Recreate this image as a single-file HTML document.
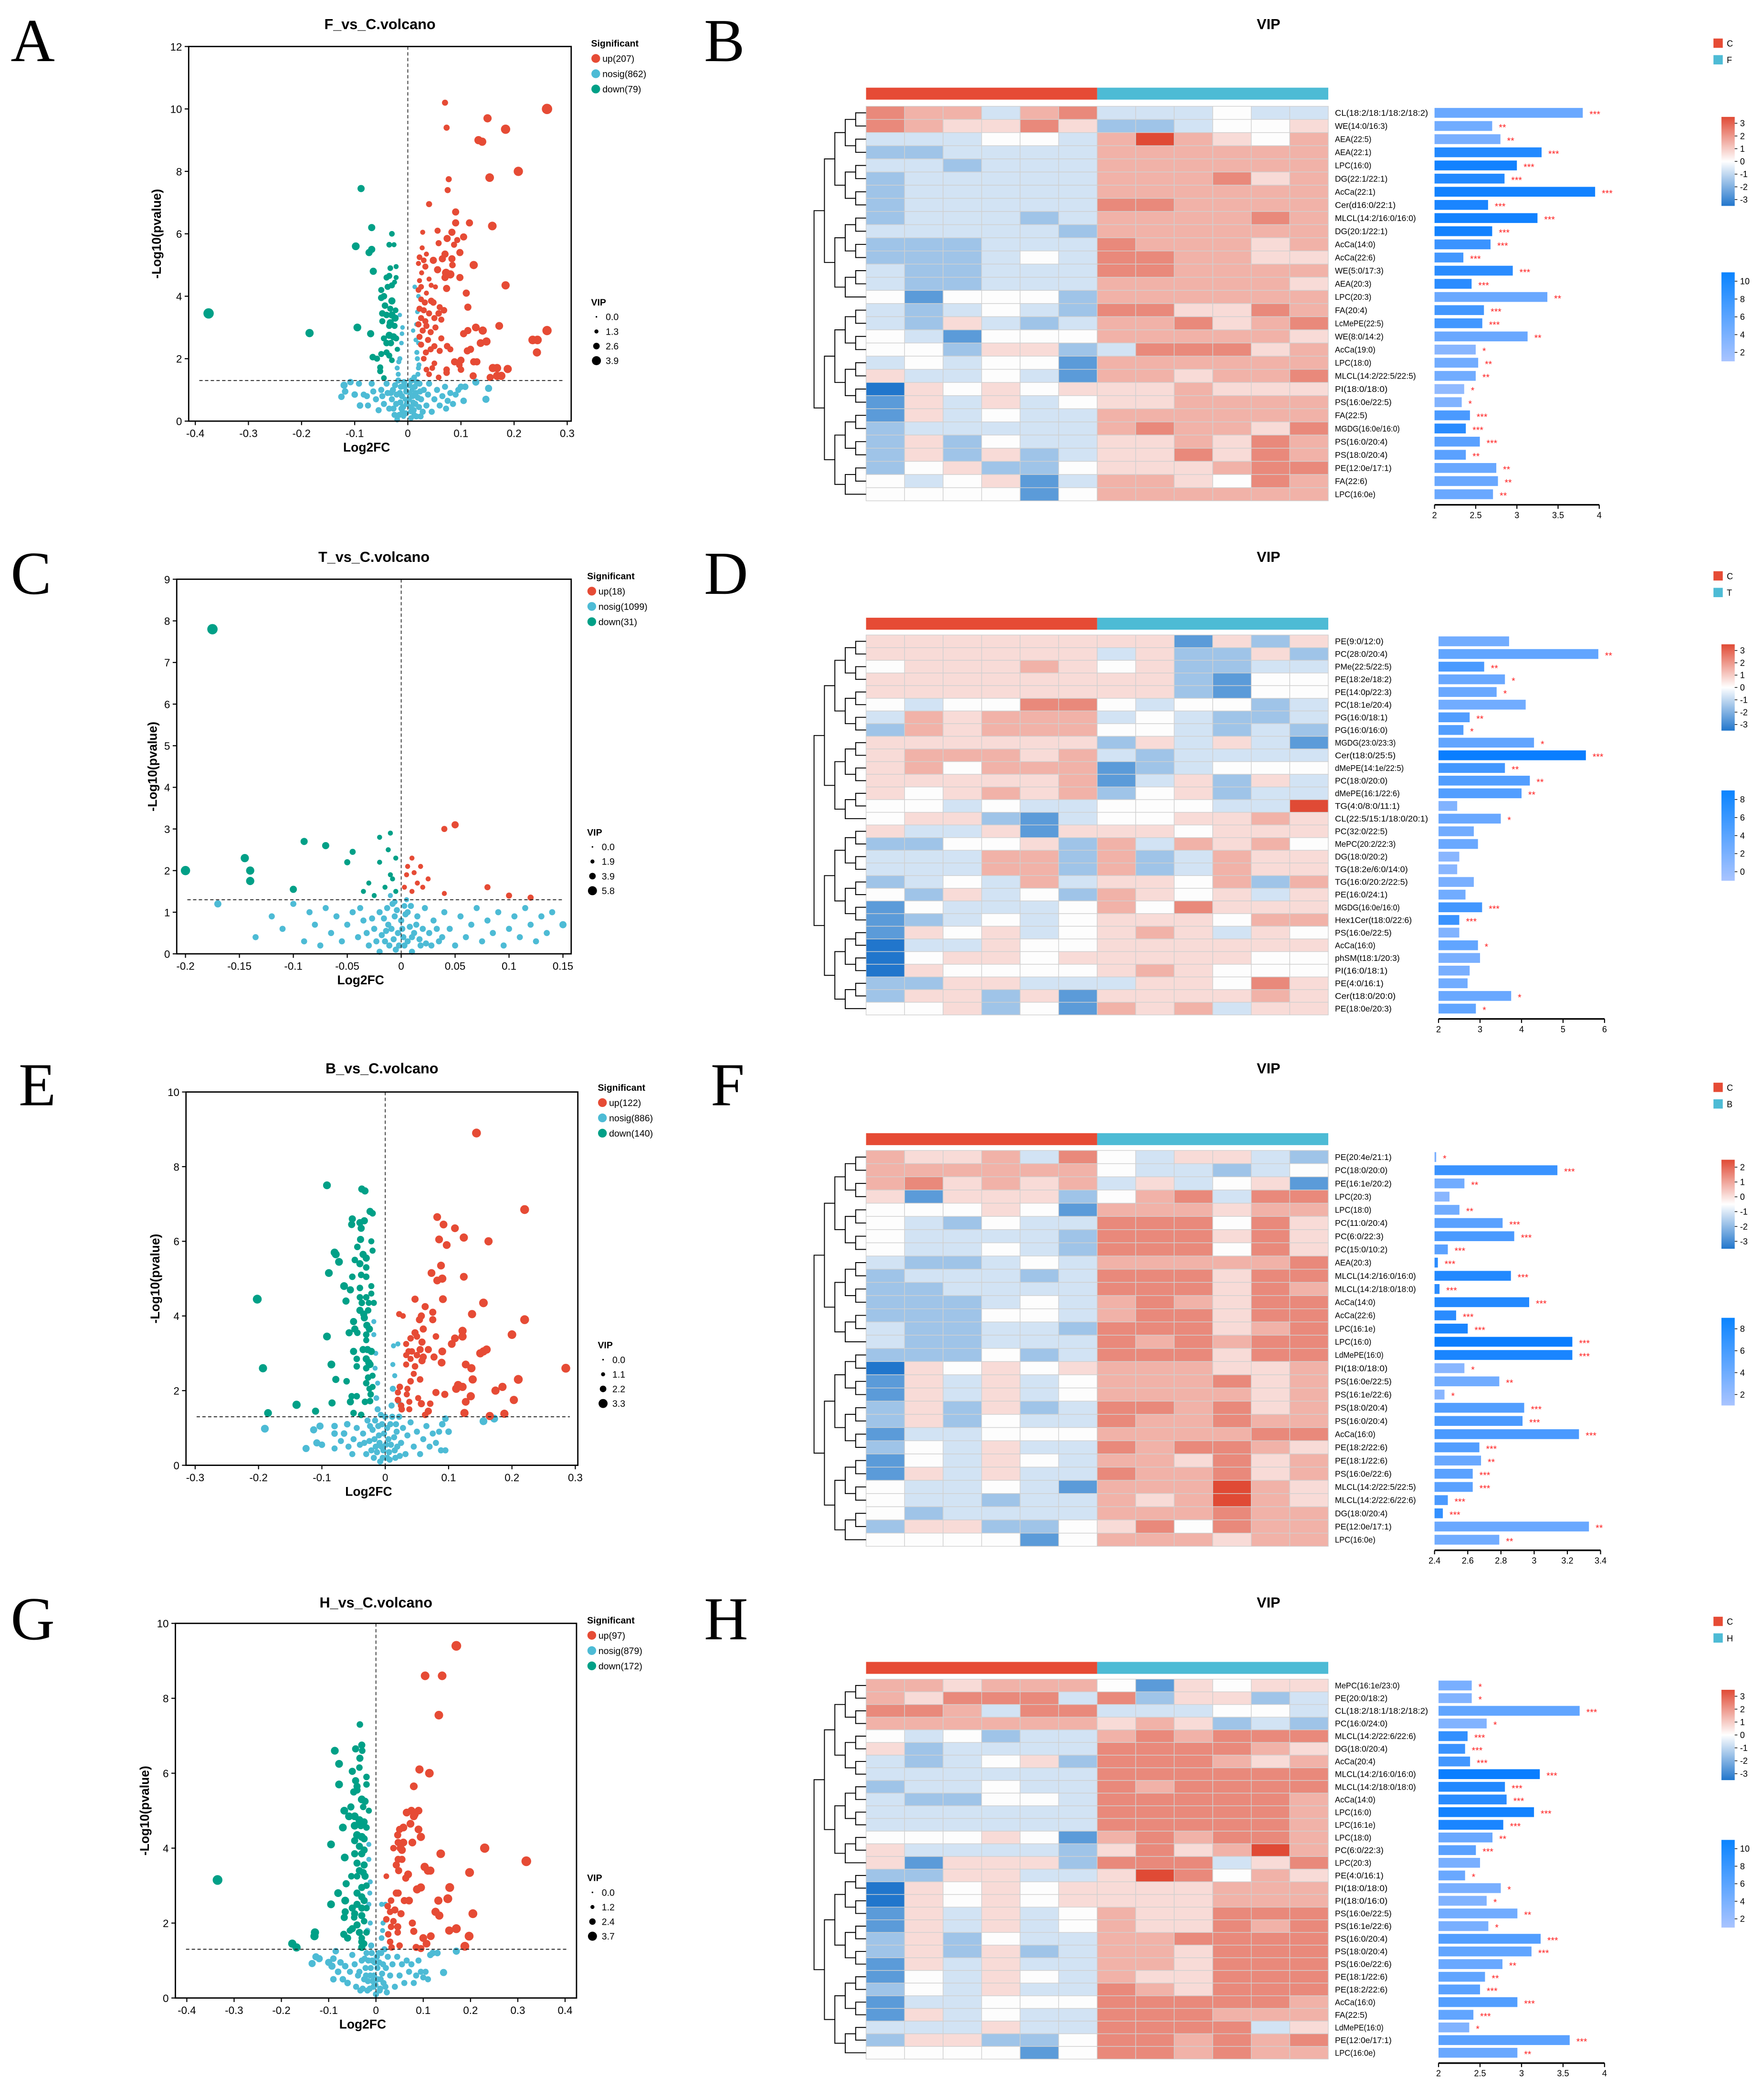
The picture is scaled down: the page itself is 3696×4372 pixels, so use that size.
<!DOCTYPE html>
<html><head><meta charset="utf-8"><title>Volcano and VIP figure</title>
<style>
html,body{margin:0;padding:0;background:#fff;}
svg{display:block;font-family:"Liberation Sans",sans-serif;}
.lt{font-family:"Liberation Serif",serif;}
</style></head>
<body>
<svg id="fig" xmlns="http://www.w3.org/2000/svg" width="3696" height="4372" viewBox="0 0 1328 1571">
<rect x="0" y="0" width="1328" height="1571" fill="#fff"/>
<text class="lt" x="8" y="46" font-size="46">A</text>
<text class="lt" x="530" y="46" font-size="46">B</text>
<text class="lt" x="8" y="447" font-size="46">C</text>
<text class="lt" x="530" y="447" font-size="46">D</text>
<text class="lt" x="14" y="832" font-size="46">E</text>
<text class="lt" x="535" y="832" font-size="46">F</text>
<text class="lt" x="8" y="1234" font-size="46">G</text>
<text class="lt" x="530" y="1234" font-size="46">H</text>
</svg>
<script>
// ===== Volcano data: flat triplets [log2FC, -log10p, VIP] =====
const upA=[0.07,10.2,2,0.073,9.4,2,0.15,9.7,3,0.184,9.35,3.5,0.133,9.0,3,0.14,8.95,3,0.262,10.0,4,0.208,8.0,3.5,0.154,7.8,3.2,0.077,7.75,2,0.075,7.4,2,0.04,6.95,2,0.09,6.7,2.5,0.09,6.35,2.5,0.116,6.35,2.5,0.159,6.25,3.2,0.028,6.05,1.5,0.056,6.1,2,0.083,6.05,2.5,0.105,5.9,2.5,0.074,5.85,2.5,0.093,5.8,2,0.058,5.7,2,0.087,5.65,2,0.027,5.55,1.5,0.035,5.35,1.5,0.07,5.35,2.5,0.098,5.4,2.5,0.022,5.25,1.8,0.03,5.15,1.8,0.048,5.15,2.5,0.065,5.2,2.5,0.083,5.2,2.5,0.124,5.0,3,0.02,5.05,1.5,0.033,4.95,2,0.056,4.85,2.5,0.072,4.75,3,0.08,4.7,3,0.084,5.0,2.2,0.026,4.75,1.5,0.04,4.55,1.5,0.07,4.6,2.5,0.098,4.6,2.5,0.022,4.5,1.5,0.044,4.35,1.5,0.052,4.3,1.5,0.02,4.2,1.8,0.025,4.3,1.8,0.073,4.25,2.5,0.184,4.35,3,0.035,4.1,1.5,0.11,4.1,2.5,0.025,3.9,1.8,0.032,3.8,2,0.044,3.85,2.2,0.048,3.8,2.2,0.113,3.65,2.5,0.06,3.65,2,0.068,3.55,2.2,0.022,3.6,2,0.03,3.55,2,0.04,3.45,2,0.058,3.45,2.2,0.025,3.3,2,0.033,3.2,2,0.05,3.3,2,0.063,3.25,2,0.02,3.1,2,0.035,3.05,2,0.052,3.0,2,0.028,2.9,2,0.043,2.85,2,0.113,2.9,2.5,0.128,3.0,2.8,0.141,2.9,3,0.172,3.05,2.8,0.105,2.8,2.5,0.262,2.9,3.5,0.022,2.7,2,0.038,2.6,2,0.063,2.65,2,0.137,2.5,2.8,0.148,2.55,3,0.235,2.6,3.2,0.244,2.6,3.2,0.243,2.2,3,0.025,2.45,2,0.043,2.3,2,0.05,2.4,2,0.074,2.4,2.2,0.112,2.25,2.5,0.118,2.3,2.5,0.034,2.2,2,0.06,2.25,2,0.08,2.3,2,0.03,2.0,1.8,0.05,1.85,1.8,0.088,1.9,2.5,0.1,1.95,2.5,0.124,1.9,2.5,0.13,1.9,2.5,0.097,1.8,2.2,0.035,1.65,1.8,0.046,1.7,1.8,0.073,1.65,2.2,0.1,1.65,2.2,0.16,1.7,3,0.168,1.7,3,0.188,1.67,3,0.04,1.5,1.8,0.123,1.45,2.5,0.155,1.4,2.5,0.168,1.45,3,0.176,1.45,3,0.058,1.4,1.8,0.073,1.55,2.2];
const downA=[-0.375,3.45,4,-0.185,2.82,3,-0.088,7.45,2.5,-0.068,6.2,2.5,-0.03,6.0,1.8,-0.098,5.6,2.8,-0.073,5.4,2.5,-0.068,5.5,2.5,-0.035,5.65,1.8,-0.026,5.65,1.5,-0.065,4.8,2.5,-0.033,4.9,1.8,-0.022,4.95,1.5,-0.04,4.6,2,-0.035,4.65,2,-0.022,4.6,1.5,-0.025,4.45,1.5,-0.05,4.2,2,-0.038,4.3,2,-0.03,4.35,2,-0.05,3.95,2.2,-0.045,4.0,2.2,-0.03,3.85,2.5,-0.043,3.7,2.2,-0.033,3.6,2,-0.023,3.55,1.8,-0.048,3.45,2.2,-0.04,3.4,2.2,-0.03,3.4,2.5,-0.024,3.3,2.5,-0.048,3.2,2,-0.033,3.15,2.5,-0.025,3.05,2,-0.095,3.0,2.8,-0.035,3.05,2,-0.07,2.8,2.5,-0.045,2.65,2,-0.035,2.75,2.5,-0.027,2.7,2.5,-0.04,2.5,2.2,-0.032,2.5,2.2,-0.022,2.65,2,-0.05,2.15,2,-0.04,2.2,2,-0.035,2.1,2,-0.066,2.05,2.2,-0.058,2.0,2,-0.03,1.95,1.8,-0.052,1.72,2,-0.052,1.6,2,-0.045,1.38,1.8,-0.02,2.3,1.5];
const nosigA=[-0.125,0.78,2.2,-0.118,0.95,2.2,-0.12,1.15,2.5,-0.108,1.25,2.2,-0.1,0.85,2.2,-0.09,0.5,2.2,-0.092,1.2,2,-0.083,0.85,2,-0.077,0.8,2,-0.075,0.5,2,-0.068,1.2,2,-0.065,0.95,2,-0.06,0.7,2,-0.055,0.35,2,-0.05,1.0,2,-0.048,0.8,2,-0.045,0.55,2,-0.04,1.2,2,-0.038,0.9,2,-0.035,0.4,2,-0.03,0.7,2,-0.028,1.0,2,-0.025,0.2,2,-0.022,0.55,2,-0.018,1.3,2,-0.015,0.9,2,-0.012,0.4,2,-0.02,1.7,1.5,-0.015,2.0,1.5,-0.012,2.5,1.3,-0.01,3.0,1.3,-0.018,1.5,1.5,-0.008,0.15,1.5,-0.005,0.7,1.5,-0.015,3.4,1.2,0.005,0.3,1.5,0.008,1.0,1.5,0.01,0.6,1.8,0.012,1.4,1.8,0.015,0.9,2,0.015,2.6,1.3,0.018,3.5,1.3,0.013,4.3,1.3,0.02,4.0,1.3,0.018,2.0,1.5,0.02,1.7,1.5,0.022,1.2,2,0.025,0.7,2,0.028,0.3,2,0.03,1.0,2,0.035,0.5,2,0.038,0.85,2,0.04,1.2,2,0.045,0.3,2,0.05,0.7,2,0.055,1.0,2,0.06,0.5,2,0.065,0.8,2,0.07,1.1,2,0.072,0.4,2,0.075,0.65,2,0.08,0.9,2,0.085,0.55,2,0.09,0.85,2,0.095,1.0,2,0.1,1.1,2.2,0.105,0.65,2.2,0.108,1.1,2.2,0.128,1.25,2.5,0.147,0.7,2.5,0.152,1.05,2.5,0.01,2.9,1.2,0.016,3.1,1.2,0.02,2.5,1.3,-0.01,0.3,1.8,-0.006,1.1,1.8,0.004,0.9,1.8,0.006,0.1,1.8,-0.02,0.05,1.8,0.012,0.2,1.8,
-0.016,0.2,2,-0.014,0.6,2,-0.013,1.1,2,-0.011,0.8,2,-0.009,0.45,2,-0.007,1.25,2,-0.004,0.25,2,-0.003,0.95,2,-0.002,0.55,2,0.002,0.7,2,0.003,1.15,2,0.006,0.45,2,0.007,1.3,2,0.009,0.8,2,0.011,0.35,2,0.013,1.1,2,0.014,0.55,2,0.016,0.15,2,0.017,1.25,2,0.019,0.75,2,0.021,0.45,2,0.023,0.95,2,0.024,0.15,2,-0.021,0.85,2,-0.024,1.15,2,-0.027,0.4,2,-0.032,0.9,2,-0.017,1.9,1.5,-0.019,2.3,1.5,-0.011,2.8,1.3,0.017,2.2,1.5,0.019,1.5,1.5,0.021,1.8,1.5];
const upC=[0.05,3.1,2.5,0.04,3.0,2,0.01,2.3,1.5,0.018,2.1,1.5,0.005,1.9,1.5,0.015,1.7,1.5,0.01,1.5,1.5,0.08,1.6,2,0.1,1.4,2,0.12,1.35,2,0.02,1.6,1.5,0.006,2.1,1.5,0.04,1.45,1.5,0.003,1.6,1.5,0.025,1.8,1.5,0.012,1.95,1.5];
const downC=[-0.175,7.8,4,-0.2,2.0,3.5,-0.145,2.3,3,-0.14,2.0,3,-0.14,1.75,3,-0.1,1.55,2.5,-0.09,2.7,2.5,-0.07,2.6,2.5,-0.05,2.2,2,-0.045,2.45,2,-0.02,2.8,1.5,-0.01,2.9,1.5,-0.02,2.2,1.5,-0.01,1.9,1.5,-0.015,1.6,1.5,-0.005,1.5,1.5,-0.03,1.7,1.5,-0.012,2.5,1.5,-0.025,1.4,1.5,-0.008,1.8,1.5,-0.005,2.3,1.5,-0.035,1.5,1.5];
const nosigC=[-0.17,1.2,2.5,-0.135,0.4,2,-0.12,0.9,2,-0.11,0.6,2,-0.1,1.2,2,-0.09,0.3,2,-0.085,1.0,2,-0.08,0.7,2,-0.075,0.2,2,-0.07,1.1,2,-0.065,0.5,2,-0.06,0.9,2,-0.055,0.3,2,-0.05,0.7,2,-0.045,1.0,2,-0.04,0.4,2,-0.035,0.8,2,-0.03,0.2,2,-0.025,0.6,2,-0.02,1.0,2,-0.015,0.3,2,-0.012,0.7,2,-0.008,1.2,2,-0.005,0.1,2,-0.003,0.5,2,0,0.8,2,0.003,0.2,2,0.006,1.0,2,0.01,0.4,2,0.014,0.7,2,0.018,0.2,2,0.022,1.1,2,0.026,0.5,2,0.03,0.8,2,0.035,0.3,2,0.04,1.0,2,0.045,0.6,2,0.05,0.2,2,0.055,0.9,2,0.06,0.4,2,0.065,0.7,2,0.07,1.1,2,0.075,0.3,2,0.08,0.8,2,0.085,0.5,2,0.09,1.0,2,0.095,0.2,2,0.1,0.6,2,0.105,0.9,2,0.11,0.4,2,0.115,1.1,2,0.12,0.7,2,0.125,0.3,2,0.13,0.9,2,0.135,0.5,2,0.14,1.0,2,0.15,0.7,2.5,-0.01,1.4,1.5,0.005,1.3,1.5,-0.02,0.05,2,0.01,0.05,2,-0.006,0.9,2,0.002,0.4,2,-0.014,0.55,2,0.008,0.65,2,
-0.018,0.45,2,-0.016,0.85,2,-0.013,1.1,2,-0.011,0.2,2,-0.009,0.6,2,-0.007,0.35,2,-0.004,1.05,2,-0.002,0.2,2,0.001,0.6,2,0.004,0.95,2,0.006,0.3,2,0.009,1.15,2,0.012,0.5,2,0.015,0.9,2,0.017,0.35,2,0.02,0.6,2,0.023,0.25,2,-0.023,0.3,2,-0.027,0.85,2,-0.032,0.5,2,-0.038,1.1,2,0.028,0.2,2,0.033,0.6,2,0.038,0.4,2,-0.006,1.25,1.8,0.003,1.15,1.8];
const upE=[0.144,8.9,3.3,0.22,6.85,3.3,0.082,6.65,2.8,0.092,6.45,2.8,0.11,6.35,2.8,0.124,6.1,3,0.163,6.0,3,0.085,6.05,2.8,0.097,5.9,2.8,0.088,5.35,2.8,0.073,5.15,2.8,0.124,5.05,2.8,0.09,5.0,3,0.082,4.95,2.8,0.155,4.35,3.2,0.047,4.45,2.5,0.091,4.45,2.8,0.063,4.25,2.5,0.137,4.05,3,0.022,4.05,2,0.028,4.0,1.8,0.057,4.0,2.5,0.075,4.1,2.5,0.054,3.9,2.5,0.075,3.9,2.5,0.22,3.9,3.3,0.06,3.65,2.5,0.122,3.6,3,0.2,3.5,3.2,0.047,3.55,2.5,0.05,3.45,2.2,0.04,3.4,2.2,0.08,3.45,2.2,0.122,3.45,3,0.11,3.4,2.8,0.058,3.3,2.5,0.105,3.25,2.8,0.033,3.25,2,0.042,3.05,2.2,0.055,3.1,2.5,0.068,3.1,2.5,0.037,3.05,2.2,0.09,3.05,2.8,0.15,3.0,3,0.155,3.05,3,0.16,3.1,3,0.033,2.95,2,0.05,2.95,2.2,0.06,2.9,2.5,0.077,2.9,2.5,0.04,2.85,2,0.058,2.8,2.5,0.089,2.75,2.8,0.033,2.7,2,0.047,2.65,2.2,0.127,2.7,2.8,0.136,2.6,3,0.285,2.6,3.3,0.045,2.45,2,0.055,2.3,2.2,0.04,2.25,2.2,0.023,2.1,2.2,0.035,2.05,2,0.115,2.15,3,0.122,2.1,3,0.138,2.3,3,0.21,2.3,3.3,0.185,2.1,3,0.174,2.0,3,0.112,2.05,3,0.02,1.95,2,0.034,1.9,2,0.08,1.95,2.5,0.094,1.9,2.5,0.135,1.85,3,0.052,1.8,2,0.02,1.75,2.2,0.038,1.7,2,0.057,1.65,2.5,0.071,1.65,2.2,0.127,1.7,2.8,0.203,1.75,3,0.025,1.6,2.2,0.026,1.5,2.2,0.038,1.5,2,0.068,1.45,2.5,0.125,1.4,3,0.165,1.32,3,0.188,1.38,3,0.063,1.35,2.2];
const downE=[-0.202,4.45,3.3,-0.193,2.6,3,-0.185,1.4,2.8,-0.14,1.62,3,-0.11,1.45,2.5,-0.092,7.5,2.8,-0.037,7.4,2.5,-0.032,7.35,2.5,-0.024,6.8,2.5,-0.02,6.75,2.2,-0.052,6.6,2.5,-0.053,6.45,2.5,-0.04,6.5,2.5,-0.033,6.55,2.5,-0.038,6.35,2.5,-0.039,6.05,2.5,-0.022,6.0,2,-0.044,5.85,2.2,-0.02,5.75,2,-0.08,5.7,2.8,-0.078,5.65,2.8,-0.073,5.45,2.8,-0.035,5.65,2.5,-0.04,5.4,2.5,-0.03,5.55,2.5,-0.048,5.5,2.2,-0.03,5.3,2.2,-0.089,5.15,2.8,-0.052,5.05,2.2,-0.038,5.1,2.2,-0.03,5.05,2.2,-0.065,4.8,2.8,-0.055,4.7,2.5,-0.04,4.75,2.2,-0.022,4.8,2,-0.022,4.6,2,-0.03,4.5,2.2,-0.04,4.5,2.2,-0.062,4.4,2.5,-0.037,4.35,2.2,-0.026,4.35,2,-0.018,4.35,2,-0.04,4.15,2.5,-0.034,4.05,2.5,-0.027,4.15,2.2,-0.033,3.95,2.5,-0.05,3.85,2.5,-0.029,3.75,2.5,-0.025,3.65,2.5,-0.048,3.65,2.5,-0.057,3.55,2.5,-0.044,3.55,2.2,-0.03,3.5,2.2,-0.092,3.45,2.8,-0.03,3.35,2,-0.05,3.05,2.5,-0.035,3.1,2.5,-0.028,3.1,2.5,-0.022,3.05,2.5,-0.045,2.85,2.2,-0.03,2.85,2.5,-0.026,2.75,2.5,-0.024,2.7,2.5,-0.085,2.7,2.8,-0.045,2.65,2.2,-0.03,2.6,2.2,-0.078,2.3,2.5,-0.061,2.25,2.2,-0.027,2.35,2.2,-0.02,2.4,2,-0.03,2.2,2.2,-0.025,2.05,2,-0.02,2.1,2,-0.045,1.85,2.2,-0.053,1.85,2.2,-0.023,1.9,2.2,-0.084,1.67,2.5,-0.055,1.7,2.5,-0.032,1.7,2.2,-0.024,1.72,2.2,-0.05,1.4,2.2,-0.038,1.35,2.2];
const nosigE=[-0.19,0.98,2.8,-0.125,0.45,2.5,-0.113,0.95,2.5,-0.103,1.05,2.5,-0.108,0.6,2.5,-0.1,0.55,2.2,-0.08,0.85,2.2,-0.08,1.05,2.2,-0.08,0.45,2,-0.07,0.65,2,-0.065,0.85,2.2,-0.06,1.1,2.2,-0.058,0.5,2,-0.052,0.3,2,-0.05,0.7,2,-0.045,1.0,2,-0.04,0.55,2,-0.035,0.85,2,-0.03,0.3,2,-0.028,1.2,2,-0.025,0.65,2,-0.02,0.95,2,-0.018,0.2,2,-0.015,0.5,2,-0.012,1.5,2,-0.012,2.2,1.5,-0.015,3.0,1.5,-0.018,3.5,1.5,-0.018,3.85,1.5,-0.01,0.8,2,-0.008,0.1,2,-0.005,1.1,2,-0.003,0.4,2,0.003,0.2,2,0.005,0.7,2,0.008,1.1,2,0.01,1.6,2,0.012,2.05,2,0.012,2.7,1.5,0.013,3.2,1.5,0.02,3.25,1.5,0.015,0.4,2,0.018,0.9,2,0.022,1.3,2,0.025,0.6,2,0.028,1.0,2,0.032,0.3,2,0.035,0.8,2,0.04,1.15,2,0.045,0.5,2,0.05,0.9,2,0.055,0.3,2,0.06,0.7,2,0.065,1.05,2,0.07,0.5,2,0.075,0.85,2,0.08,0.6,2,0.085,0.9,2,0.088,0.4,2,0.09,1.1,2.2,0.095,1.25,2.2,0.1,0.9,2.2,0.095,0.4,2,0.155,1.18,2.8,0.172,1.25,2.8,-0.006,0.5,2,0.006,0.35,2,0.0,1.3,2,
-0.017,0.7,2,-0.016,1.2,2,-0.013,0.35,2,-0.011,1.05,2,-0.009,0.6,2,-0.007,1.35,2,-0.004,0.2,2,-0.002,0.85,2,0.001,0.55,2,0.003,1.0,2,0.007,0.15,2,0.009,0.55,2,0.011,1.3,2,0.014,0.75,2,0.016,0.2,2,0.017,1.1,2,0.019,0.5,2,0.021,1.7,1.8,0.023,0.25,2,-0.022,0.4,2,-0.024,1.05,2,-0.033,0.6,2,-0.014,1.8,1.8,-0.016,2.6,1.5,0.015,2.4,1.5];
const upG=[0.17,9.4,3.7,0.104,8.6,3.2,0.14,8.6,3.2,0.133,7.55,3.2,0.092,6.1,3,0.113,6.0,3.2,0.08,5.65,2.8,0.065,4.95,2.8,0.075,5.0,2.8,0.082,4.9,2.8,0.09,5.0,2.8,0.08,4.85,2.8,0.073,4.65,2.8,0.05,4.5,2.5,0.058,4.55,2.8,0.09,4.5,2.8,0.046,4.35,2.5,0.095,4.3,3,0.047,4.15,2.5,0.058,4.15,2.8,0.077,4.15,2.8,0.052,4.0,2.8,0.037,4.0,2.2,0.055,3.95,2.8,0.23,4.0,3.5,0.137,3.85,3.2,0.047,3.7,2.5,0.055,3.7,2.5,0.043,3.55,2.5,0.318,3.65,3.7,0.103,3.5,3,0.11,3.4,3,0.115,3.4,3,0.198,3.35,3.3,0.048,3.4,2.5,0.068,3.3,2.8,0.063,3.2,2.5,0.022,3.25,1.8,0.095,2.95,3,0.087,2.9,3,0.156,2.95,3.3,0.047,2.8,2.5,0.043,2.8,2.5,0.032,2.6,2.2,0.06,2.6,2.5,0.07,2.6,2.8,0.132,2.6,3,0.152,2.65,3.3,0.025,2.45,2.2,0.04,2.35,2.5,0.03,2.3,2.2,0.053,2.25,2.5,0.126,2.3,3,0.134,2.2,3,0.205,2.25,3.3,0.022,2.1,2.2,0.037,2.05,2.2,0.077,2.0,2.5,0.032,1.9,2.2,0.046,1.9,2.5,0.17,1.85,3.3,0.155,1.8,3,0.08,1.78,2.5,0.046,1.75,2.2,0.026,1.7,2.2,0.1,1.6,2.8,0.116,1.65,2.8,0.197,1.65,3.3,0.03,1.5,2.2,0.107,1.45,2.8,0.05,1.4,2.2,0.188,1.38,3.3,0.085,1.35,2.5,0.095,1.32,2.5,0.033,1.35,2.2];
const downG=[-0.335,3.15,3.7,-0.177,1.45,3,-0.168,1.35,3,-0.129,1.75,3,-0.13,1.65,3,-0.034,7.3,2.2,-0.087,6.6,2.8,-0.043,6.65,2.5,-0.03,6.75,2.5,-0.029,6.6,2.2,-0.034,6.4,2.5,-0.078,6.25,2.8,-0.035,6.15,2.2,-0.05,6.05,2.5,-0.043,5.8,2.5,-0.02,5.9,2.2,-0.02,5.7,2.2,-0.078,5.7,2.8,-0.04,5.65,2.5,-0.04,5.55,2.5,-0.047,5.5,2.5,-0.03,5.3,2.8,-0.023,5.25,2.5,-0.027,5.1,2.2,-0.053,5.1,2.5,-0.067,5.0,2.8,-0.015,5.0,2,-0.057,4.85,2.8,-0.045,4.85,2.8,-0.035,4.75,2.8,-0.025,4.7,2.5,-0.045,4.6,2.8,-0.032,4.6,2.5,-0.07,4.55,2.8,-0.02,4.55,2.2,-0.04,4.35,2.8,-0.03,4.3,2.8,-0.025,4.25,2.5,-0.045,4.2,2.5,-0.095,4.1,2.8,-0.035,4.05,2.5,-0.025,3.95,2.5,-0.045,3.85,2.5,-0.03,3.85,2.5,-0.066,3.75,2.8,-0.04,3.6,2.5,-0.025,3.55,2.5,-0.035,3.4,2.5,-0.027,3.35,2.5,-0.023,3.25,2.5,-0.052,3.25,2.2,-0.04,3.25,2.2,-0.063,3.05,2.5,-0.02,3.0,2.2,-0.03,2.95,2.5,-0.08,2.8,2.8,-0.04,2.8,2.5,-0.03,2.7,2.5,-0.025,2.6,2.5,-0.065,2.6,2.8,-0.095,2.5,2.8,-0.04,2.5,2.5,-0.03,2.4,2.5,-0.02,2.4,2.2,-0.05,2.4,2.5,-0.065,2.3,2.5,-0.045,2.25,2.5,-0.03,2.2,2.5,-0.067,2.15,2.5,-0.046,2.15,2.2,-0.025,2.05,2.2,-0.04,1.95,2.5,-0.05,1.85,2.5,-0.055,1.8,2.2,-0.035,1.75,2.5,-0.02,1.75,2.2,-0.068,1.7,2.5,-0.06,1.6,2.5,-0.03,1.6,2.2,-0.03,1.5,2.5,-0.025,1.45,2.2,-0.03,1.35,2.5];
const nosigG=[-0.135,0.92,2.5,-0.127,1.1,2.5,-0.12,1.05,2.5,-0.1,0.95,2.5,-0.093,0.85,2.5,-0.09,1.05,2.2,-0.085,1.25,2.2,-0.09,0.5,2.2,-0.08,0.7,2.2,-0.075,0.95,2.2,-0.07,0.5,2.2,-0.065,0.85,2.2,-0.06,0.4,2.2,-0.055,0.7,2,-0.05,1.15,2,-0.045,0.9,2,-0.042,0.3,2,-0.038,0.6,2,-0.033,0.2,2,-0.03,1.0,2,-0.025,0.5,2,-0.022,0.8,2,-0.02,1.2,2,-0.018,1.8,1.8,-0.015,2.5,1.5,-0.012,3.1,1.5,-0.015,4.1,1.5,-0.015,3.7,1.5,-0.018,0.2,2,-0.012,0.6,2,-0.008,1.0,2,-0.005,0.3,2,0,0.1,2,0.003,0.8,2,0.006,1.2,2,0.01,0.5,2,0.012,1.6,1.8,0.015,2.0,1.5,0.012,2.5,1.5,0.02,2.5,1.5,0.015,0.9,2,0.02,0.3,2,0.025,1.1,2,0.03,0.6,2,0.035,0.9,2,0.04,0.3,2,0.045,1.1,2,0.05,0.6,2,0.055,0.9,2,0.06,0.4,2,0.065,1.0,2,0.07,0.7,2,0.075,0.9,2,0.08,0.4,2,0.085,0.6,2,0.09,1.0,2,0.095,0.7,2,0.1,0.55,2,0.105,0.7,2,0.11,0.5,2,0.115,1.15,2.2,0.12,1.2,2.2,0.13,1.2,2.2,0.143,0.68,2.5,0.17,1.25,2.5,-0.004,0.6,2,0.008,0.2,2,-0.01,1.4,2,
-0.017,0.45,2,-0.016,1.0,2,-0.013,0.25,2,-0.011,0.8,2,-0.009,1.2,2,-0.007,0.45,2,-0.003,0.95,2,-0.001,0.35,2,0.002,1.1,2,0.004,0.5,2,0.007,0.95,2,0.009,0.25,2,0.011,1.2,2,0.013,0.65,2,0.016,0.4,2,0.018,1.3,2,0.021,0.8,2,0.023,0.15,2,-0.021,0.6,2,-0.024,1.05,2,-0.028,0.25,2,-0.035,0.7,2,-0.012,2.0,1.5,-0.013,2.8,1.5,0.014,1.8,1.5];
const xTicksA=[-0.4,-0.3,-0.2,-0.1,0,0.1,0.2,0.3], yTicksA=[0,2,4,6,8,10,12];
const xTicksC=[-0.2,-0.15,-0.1,-0.05,0,0.05,0.1,0.15], yTicksC=[0,1,2,3,4,5,6,7,8,9];
const xTicksE=[-0.3,-0.2,-0.1,0,0.1,0.2,0.3], yTicksE=[0,2,4,6,8,10];
const xTicksG=[-0.4,-0.3,-0.2,-0.1,0,0.1,0.2,0.3,0.4], yTicksG=[0,2,4,6,8,10];
const countsA=[207,862,79], countsC=[18,1099,31], countsE=[122,886,140], countsG=[97,879,172];
const vipLegA=[0.0,1.3,2.6,3.9], vipLegC=[0.0,1.9,3.9,5.8], vipLegE=[0.0,1.1,2.2,3.3], vipLegG=[0.0,1.2,2.4,3.7];

// ===== Heatmap / VIP data =====
const catsB=["CL(18:2/18:1/18:2/18:2)","WE(14:0/16:3)","AEA(22:5)","AEA(22:1)","LPC(16:0)","DG(22:1/22:1)","AcCa(22:1)","Cer(d16:0/22:1)","MLCL(14:2/16:0/16:0)","DG(20:1/22:1)","AcCa(14:0)","AcCa(22:6)","WE(5:0/17:3)","AEA(20:3)","LPC(20:3)","FA(20:4)","LcMePE(22:5)","WE(8:0/14:2)","AcCa(19:0)","LPC(18:0)","MLCL(14:2/22:5/22:5)","PI(18:0/18:0)","PS(16:0e/22:5)","FA(22:5)","MGDG(16:0e/16:0)","PS(16:0/20:4)","PS(18:0/20:4)","PE(12:0e/17:1)","FA(22:6)","LPC(16:0e)"];
const heatB=["766367333433","765575223445","333443686546","223333666666","332333666666","233333666756","233333666666","233333776666","233323666676","333332666666","222333766656","222343776655","322333776666","322333666665","414442666666","323432775576","325323667567","431444666665","442552377756","343441666666","533431665667","054545556555","153534556666","153433666666","233333676657","252433556576","252523557576","245224555677","434513665476","444414666666"];
const vipB=[3.8,2.7,2.8,3.3,3.0,2.85,3.95,2.65,3.25,2.7,2.68,2.35,2.95,2.45,3.37,2.6,2.58,3.13,2.5,2.53,2.5,2.36,2.33,2.43,2.38,2.55,2.38,2.75,2.77,2.71];
const starsB=["***","**","**","***","***","***","***","***","***","***","***","***","***","***","**","***","***","**","*","**","**","*","*","***","***","***","**","**","**","**"];
const shadeB=[0.4,0.35,0.3,0.85,0.95,0.85,0.95,0.9,0.95,0.95,0.7,0.65,0.8,0.8,0.4,0.65,0.65,0.4,0.2,0.35,0.35,0.15,0.25,0.6,0.8,0.5,0.5,0.4,0.4,0.4];
const ticksB=[2,2.5,3,3.5,4];

const catsD=["PE(9:0/12:0)","PC(28:0/20:4)","PMe(22:5/22:5)","PE(18:2e/18:2)","PE(14:0p/22:3)","PC(18:1e/20:4)","PG(16:0/18:1)","PG(16:0/16:0)","MGDG(23:0/23:3)","Cer(t18:0/25:5)","dMePE(14:1e/22:5)","PC(18:0/20:0)","dMePE(16:1/22:6)","TG(4:0/8:0/11:1)","CL(22:5/15:1/18:0/20:1)","PC(32:0/22:5)","MePC(20:2/22:3)","DG(18:0/20:2)","TG(18:2e/6:0/14:0)","TG(16:0/20:2/22:5)","PE(16:0/24:1)","MGDG(16:0e/16:0)","Hex1Cer(t18:0/22:6)","PS(16:0e/22:5)","AcCa(16:0)","phSM(t18:1/20:3)","PI(16:0/18:1)","PE(4:0/16:1)","Cer(t18:0/20:0)","PE(18:0e/20:3)"];
const heatD=["555555551525","555555352252","455565452233","555555552144","555555552144","434477434423","365666343223","265666443232","555555253531","566656323333","564666123444","555556135253","545656245233","443433444338","455213445565","533515554555","224452636564","333662623655","333662623655","234363554626","425342654535","143334647555","123434555466","154534565354","033544555555","045545555544","054444565444","225533355475","255251555565","445241656355"];
const vipD=[3.7,5.85,3.1,3.6,3.4,4.1,2.75,2.6,4.3,5.55,3.6,4.2,4.0,2.45,3.5,2.85,2.95,2.5,2.45,2.85,2.65,3.05,2.5,2.5,2.95,3.0,2.75,2.7,3.75,2.9];
const starsD=["","**","**","*","*","","**","*","*","***","**","**","**","","*","","","","","","","***","***","","*","","","","*","*"];
const shadeD=[0.35,0.45,0.6,0.4,0.4,0.35,0.55,0.55,0.45,1,0.65,0.55,0.55,0.25,0.4,0.35,0.4,0.2,0.2,0.3,0.35,0.65,0.7,0.25,0.45,0.3,0.3,0.35,0.4,0.45];
const ticksD=[2,3,4,5,6];

const catsF=["PE(20:4e/21:1)","PC(18:0/20:0)","PE(16:1e/20:2)","LPC(20:3)","LPC(18:0)","PC(11:0/20:4)","PC(6:0/22:3)","PC(15:0/10:2)","AEA(20:3)","MLCL(14:2/16:0/16:0)","MLCL(14:2/18:0/18:0)","AcCa(14:0)","AcCa(22:6)","LPC(16:1e)","LPC(16:0)","LdMePE(16:0)","PI(18:0/18:0)","PS(16:0e/22:5)","PS(16:1e/22:6)","PS(18:0/20:4)","PS(16:0/20:4)","AcCa(16:0)","PE(18:2/22:6)","PE(18:1/22:6)","PS(16:0e/22:6)","MLCL(14:2/22:5/22:5)","MLCL(14:2/22:6/22:6)","DG(18:0/20:4)","PE(12:0e/17:1)","LPC(16:0e)"];
const heatF=["655637435532","666666433234","675656353451","515552467377","444541666566","432433777475","433332777575","433432777475","322343666667","233323777577","223333777576","222343676577","222443677577","322332777567","322333767677","222423777577","054545666556","153534666756","153534666656","252523776756","252433766766","133444666677","243533767765","143543665756","153533766756","433431666865","433233656865","423333666766","255224574766","444414666566"];
const vipF=[2.41,3.14,2.58,2.49,2.55,2.81,2.88,2.48,2.42,2.86,2.43,2.97,2.53,2.6,3.23,3.23,2.58,2.79,2.46,2.94,2.93,3.27,2.67,2.68,2.63,2.63,2.48,2.45,3.33,2.79];
const starsF=["*","***","**","","**","***","***","***","***","***","***","***","***","***","***","***","*","**","*","***","***","***","***","**","***","***","***","***","**","**"];
const shadeF=[0.3,0.7,0.35,0.2,0.35,0.5,0.6,0.5,0.8,0.85,0.8,0.85,0.8,0.9,1,0.9,0.2,0.35,0.2,0.55,0.6,0.6,0.55,0.4,0.5,0.5,0.6,0.75,0.4,0.35];
const ticksF=[2.4,2.6,2.8,3,3.2,3.4];

const catsH=["MePC(16:1e/23:0)","PE(20:0/18:2)","CL(18:2/18:1/18:2/18:2)","PC(16:0/24:0)","MLCL(14:2/22:6/22:6)","DG(18:0/20:4)","AcCa(20:4)","MLCL(14:2/16:0/16:0)","MLCL(14:2/18:0/18:0)","AcCa(14:0)","LPC(16:0)","LPC(16:1e)","LPC(18:0)","PC(6:0/22:3)","LPC(20:3)","PE(4:0/16:1)","PI(18:0/18:0)","PI(18:0/16:0)","PS(16:0e/22:5)","PS(16:1e/22:6)","PS(16:0/20:4)","PS(18:0/20:4)","PS(16:0e/22:6)","PE(18:1/22:6)","PE(18:2/22:6)","AcCa(16:0)","FA(22:5)","LdMePE(16:0)","PE(12:0e/17:1)","LPC(16:0e)"];
const heatH=["665666415455","657773725523","776377333443","666666565232","434233676777","523333777765","323452777656","333333777777","233433767777","322443777776","333333777776","333333777776","444541676776","533332575686","515552777357","225533587465","054545555666","054545555666","153534655777","153534655767","252433667777","252523665777","153533665777","143543655777","243533765777","133444777776","153433777666","333533777735","255224776767","444414776766"];
const vipH=[2.4,2.4,3.7,2.58,2.35,2.32,2.38,3.22,2.8,2.82,3.15,2.78,2.65,2.45,2.5,2.32,2.75,2.58,2.95,2.6,3.23,3.12,2.77,2.56,2.5,2.95,2.42,2.37,3.58,2.95];
const starsH=["*","*","***","*","***","***","***","***","***","***","***","***","**","***","","*","*","*","**","*","***","***","**","**","***","***","***","*","***","**"];
const shadeH=[0.3,0.25,0.45,0.25,0.75,0.7,0.65,1,0.85,0.8,0.95,0.9,0.4,0.5,0.3,0.4,0.3,0.25,0.35,0.3,0.55,0.45,0.4,0.45,0.5,0.55,0.45,0.25,0.5,0.4];
const ticksH=[2,2.5,3,3.5,4];

// ===== drawing =====
const NS="http://www.w3.org/2000/svg";
const svg=document.getElementById('fig');
function mk(tag,a,p){const e=document.createElementNS(NS,tag);for(const k in a)e.setAttribute(k,a[k]);(p||svg).appendChild(e);return e;}
function txt(s,a,p){const e=mk('text',a,p);e.textContent=s;return e;}
const C_UP="#e64b35",C_NO="#4dbbd5",C_DN="#00a087";
function rad(v){return 0.7+v*0.8;}

function volcano(P){
  const g=mk('g',{});
  
  
  const X=v=>P.xz+v*P.kx, Y=v=>P.yz-v*P.ky;
  const t=txt(P.title,{x:(P.x0+P.x1)/2,y:P.ty,'text-anchor':'middle','font-size':11,'font-weight':'bold'},g);
  
  
  const groups=[[P.nosig,C_NO,'nosig'],[P.down,C_DN,'down'],[P.up,C_UP,'up']];
  for(const [arr,col,nm] of groups){
    for(let i=0;i<arr.length;i+=3){
      const c=mk('circle',{cx:X(arr[i]).toFixed(2),cy:Y(arr[i+1]).toFixed(2),r:rad(arr[i+2]).toFixed(2),fill:col},g);
      
      
    }
  }
  const th=mk('line',{x1:P.x0+8,x2:P.x1-6,y1:Y(1.3),y2:Y(1.3),stroke:'#222','stroke-width':0.7,'stroke-dasharray':'2.5,1.8'},g);
  
  
  const vz=mk('line',{x1:X(0),x2:X(0),y1:P.y0,y2:P.y1,stroke:'#222','stroke-width':0.6,'stroke-dasharray':'2.5,1.8'},g);
  
  
  const box=mk('rect',{x:P.x0,y:P.y0,width:P.x1-P.x0,height:P.y1-P.y0,fill:'none',stroke:'#000','stroke-width':1},g);
  
  
  for(const v of P.xt){
    const l=mk('line',{x1:X(v),x2:X(v),y1:P.y1,y2:P.y1+3,stroke:'#000','stroke-width':0.8},g);
    
    
    const s=txt(String(v),{x:X(v),y:P.y1+12,'text-anchor':'middle','font-size':8},g);
    
    
  }
  for(const v of P.yt){
    const l=mk('line',{x1:P.x0-3,x2:P.x0,y1:Y(v),y2:Y(v),stroke:'#000','stroke-width':0.8},g);
    
    
    const s=txt(String(v),{x:P.x0-5,y:Y(v)+3,'text-anchor':'end','font-size':8},g);
    
    
  }
  const xl=txt('Log2FC',{x:(P.x0+P.x1)/2-10,y:P.y1+23,'text-anchor':'middle','font-size':9.5,'font-weight':'bold'},g);
  
  
  const cy=(P.y0+P.y1)/2;
  const yl=txt('-Log10(pvalue)',{x:P.ylx,y:cy,'text-anchor':'middle','font-size':9.5,'font-weight':'bold',transform:'rotate(-90 '+P.ylx+' '+cy+')'},g);
  
  
  const sl=txt('Significant',{x:P.lx,y:P.ly,'font-size':7,'font-weight':'bold'},g);
  
  
  const labs=['up('+P.counts[0]+')','nosig('+P.counts[1]+')','down('+P.counts[2]+')'];
  const cols=[C_UP,C_NO,C_DN];
  for(let i=0;i<3;i++){
    const yy=P.ly+11.5*(i+1);
    const c=mk('circle',{cx:P.lx+3.5,cy:yy-2.5,r:3.3,fill:cols[i]},g);
    
    
    const s=txt(labs[i],{x:P.lx+8.5,y:yy,'font-size':7},g);
    
    
  }
  const vl=txt('VIP',{x:P.lx,y:P.vy,'font-size':7,'font-weight':'bold'},g);
  
  
  for(let i=0;i<P.vipLeg.length;i++){
    const yy=P.vy+11*(i+1);
    const c=mk('circle',{cx:P.lx+4,cy:yy-2.5,r:(0.6+P.vipLeg[i]/P.vipLeg[3]*2.8).toFixed(2),fill:'#000'},g);
    
    
    const s=txt(P.vipLeg[i].toFixed(1),{x:P.lx+11,y:yy,'font-size':7},g);
    
    
  }
}

const stops=["#2176cc","#5b9bd9","#9fc4e8","#d2e3f4","#fdfdfd","#f8dbd7","#f1b2a8","#e9897b","#e04a35"];
function heatColor(ch){return stops[Math.max(0,Math.min(8,parseInt(ch,10)))];}
function lerp(a,b,t){const pa=[1,3,5].map(i=>parseInt(a.substr(i,2),16)),pb=[1,3,5].map(i=>parseInt(b.substr(i,2),16));return 'rgb('+pa.map((v,i)=>Math.round(v+(pb[i]-v)*t)).join(',')+')';}

function heatmap(P){
  const g=mk('g',{});
  
  
  const t=txt('VIP',{x:955,y:P.ty,'text-anchor':'middle','font-size':11,'font-weight':'bold'},g);
  
  
  const gx0=652,gx1=1000,cw=(gx1-gx0)/12;
  const n=P.cats.length, rh=(P.gy1-P.gy0)/n;
  const b1=mk('rect',{x:gx0,y:P.cb,width:cw*6,height:9,fill:'#e64b35'},g);
  
  
  const b2=mk('rect',{x:gx0+cw*6,y:P.cb,width:cw*6,height:9,fill:'#4dbbd5'},g);
  
  
  for(let r=0;r<n;r++){
    const row=P.heat[r];
    for(let c=0;c<12;c++){
      const cell=mk('rect',{x:(gx0+c*cw).toFixed(2),y:(P.gy0+r*rh).toFixed(2),width:cw.toFixed(2),height:rh.toFixed(2),fill:heatColor(row[c]),stroke:'#d0d0d0','stroke-width':0.5},g);
      
      
    }
    const yc=P.gy0+(r+0.5)*rh;
    const lb=txt(P.cats[r],{x:gx1+5,y:yc+2.2,'font-size':6.2,textLength:Math.min(P.cats[r].length*3.05,72),lengthAdjust:'spacingAndGlyphs'},g);
    
    
    const bx0=P.ax0, bw=(P.vip[r]-P.tk[0])*P.kx;
    const bar=mk('rect',{x:bx0,y:(yc-3.7).toFixed(2),width:Math.max(1,bw).toFixed(2),height:7.4,fill:lerp('#a9c4ff','#0a7eff',P.shade[r])},g);
    
    
    if(P.stars[r]){
      const st=txt(P.stars[r],{x:bx0+bw+5,y:yc+3.5,'font-size':7,fill:'#ff2020'},g);
      
      
    }
  }
  const maxD=Math.ceil(Math.log2(n))+1;
  function tree(lo,hi){
    if(lo===hi)return {y:P.gy0+(lo+0.5)*rh,h:0};
    const mid=Math.floor((lo+hi)/2);
    const a=tree(lo,mid),b=tree(mid+1,hi);
    const h=Math.max(a.h,b.h)+1;
    const x=gx0-47*h/maxD, xa=gx0-47*a.h/maxD, xb=gx0-47*b.h/maxD;
    const p=mk('path',{d:'M'+xa+','+a.y+'H'+x+'V'+b.y+'H'+xb,fill:'none',stroke:'#000','stroke-width':0.7},g);
    
    
    return {y:(a.y+b.y)/2,h:h};
  }
  tree(0,n-1);
  const ay=P.gy1+3;
  const ax=mk('line',{x1:P.ax0,x2:P.ax0+(P.tk[P.tk.length-1]-P.tk[0])*P.kx,y1:ay,y2:ay,stroke:'#000','stroke-width':1.2},g);
  
  
  for(const v of P.tk){
    const xx=P.ax0+(v-P.tk[0])*P.kx;
    const l=mk('line',{x1:xx,x2:xx,y1:ay,y2:ay+3,stroke:'#000','stroke-width':0.8},g);
    
    
    const s=txt(String(v),{x:xx,y:ay+10,'text-anchor':'middle','font-size':6.5},g);
    
    
  }
  const names=['C',P.grp],lc=['#e64b35','#4dbbd5'];
  for(let i=0;i<2;i++){
    const r=mk('rect',{x:1290,y:P.ty+7+i*12.5,width:7,height:7,fill:lc[i]},g);
    
    
    const s=txt(names[i],{x:1300,y:P.ty+13+i*12.5,'font-size':6.5},g);
    
    
  }
  const gid='gr'+P.id, gid2='gb'+P.id;
  const defs=mk('defs',{},g);
  const lg=mk('linearGradient',{id:gid,x1:0,y1:0,x2:0,y2:1},defs);
  mk('stop',{offset:'0',  'stop-color':'#e04a35'},lg);
  mk('stop',{offset:'0.5','stop-color':'#ffffff'},lg);
  mk('stop',{offset:'1',  'stop-color':'#2176cc'},lg);
  const lg2=mk('linearGradient',{id:gid2,x1:0,y1:0,x2:0,y2:1},defs);
  mk('stop',{offset:'0','stop-color':'#0a84ff'},lg2);
  mk('stop',{offset:'1','stop-color':'#a9c4ff'},lg2);
  const cs=mk('rect',{x:1296,y:P.ls0,width:10,height:P.ls1-P.ls0,fill:'url(#'+gid+')'},g);
  
  
  for(let i=0;i<P.zl.length;i++){
    const yy=P.ls0+(P.ls1-P.ls0)*(i+0.5)/P.zl.length;
    mk('line',{x1:1306,x2:1308,y1:yy,y2:yy,stroke:'#000','stroke-width':0.5},g);
    const s=txt(String(P.zl[i]),{x:1310,y:yy+2.3,'font-size':6.5},g);
    
    
  }
  const vs=mk('rect',{x:1296,y:P.lv0,width:10,height:P.lv1-P.lv0,fill:'url(#'+gid2+')'},g);
  
  
  for(let i=0;i<P.vl.length;i++){
    const yy=P.lv0+(P.lv1-P.lv0)*(i+0.5)/P.vl.length;
    mk('line',{x1:1306,x2:1308,y1:yy,y2:yy,stroke:'#000','stroke-width':0.5},g);
    const s=txt(String(P.vl[i]),{x:1310,y:yy+2.3,'font-size':6.5},g);
    
    
  }
}

volcano({id:'f-vs-c',title:'F_vs_C.volcano',ty:22,x0:142,x1:430,y0:35,y1:317,xz:307,kx:400,yz:317,ky:23.5,xt:xTicksA,yt:yTicksA,up:upA,down:downA,nosig:nosigA,counts:countsA,vipLeg:vipLegA,lx:445,ly:35,vy:230,ylx:121});
volcano({id:'t-vs-c',title:'T_vs_C.volcano',ty:423,x0:133,x1:430,y0:436,y1:718,xz:302,kx:812,yz:718,ky:31.33,xt:xTicksC,yt:yTicksC,up:upC,down:downC,nosig:nosigC,counts:countsC,vipLeg:vipLegC,lx:442,ly:436,vy:629,ylx:118});
volcano({id:'b-vs-c',title:'B_vs_C.volcano',ty:808,x0:140,x1:435,y0:822,y1:1103,xz:290,kx:477,yz:1103,ky:28.1,xt:xTicksE,yt:yTicksE,up:upE,down:downE,nosig:nosigE,counts:countsE,vipLeg:vipLegE,lx:450,ly:821,vy:1015,ylx:120});
volcano({id:'h-vs-c',title:'H_vs_C.volcano',ty:1210,x0:132,x1:434,y0:1222,y1:1504,xz:283,kx:356,yz:1504,ky:28.2,xt:xTicksG,yt:yTicksG,up:upG,down:downG,nosig:nosigG,counts:countsG,vipLeg:vipLegG,lx:442,ly:1222,vy:1416,ylx:112});

heatmap({id:'f-vip',grp:'F',ty:22,cb:66,gy0:80,gy1:377,cats:catsB,heat:heatB,vip:vipB,stars:starsB,shade:shadeB,tk:ticksB,ax0:1080,kx:62,ls0:88,ls1:155,zl:[3,2,1,0,-1,-2,-3],lv0:205,lv1:272,vl:[10,8,6,4,2]});
heatmap({id:'t-vip',grp:'T',ty:423,cb:465,gy0:478,gy1:764,cats:catsD,heat:heatD,vip:vipD,stars:starsD,shade:shadeD,tk:ticksD,ax0:1083,kx:31.25,ls0:485,ls1:550,zl:[3,2,1,0,-1,-2,-3],lv0:595,lv1:663,vl:[8,6,4,2,0]});
heatmap({id:'b-vip',grp:'B',ty:808,cb:853,gy0:866,gy1:1164,cats:catsF,heat:heatF,vip:vipF,stars:starsF,shade:shadeF,tk:ticksF,ax0:1080,kx:125,ls0:873,ls1:940,zl:[2,1,0,-1,-2,-3],lv0:992,lv1:1058,vl:[8,6,4,2]});
heatmap({id:'h-vip',grp:'H',ty:1210,cb:1251,gy0:1264,gy1:1550,cats:catsH,heat:heatH,vip:vipH,stars:starsH,shade:shadeH,tk:ticksH,ax0:1083,kx:62.5,ls0:1272,ls1:1340,zl:[3,2,1,0,-1,-2,-3],lv0:1385,lv1:1451,vl:[10,8,6,4,2]});
</script>
</body></html>
